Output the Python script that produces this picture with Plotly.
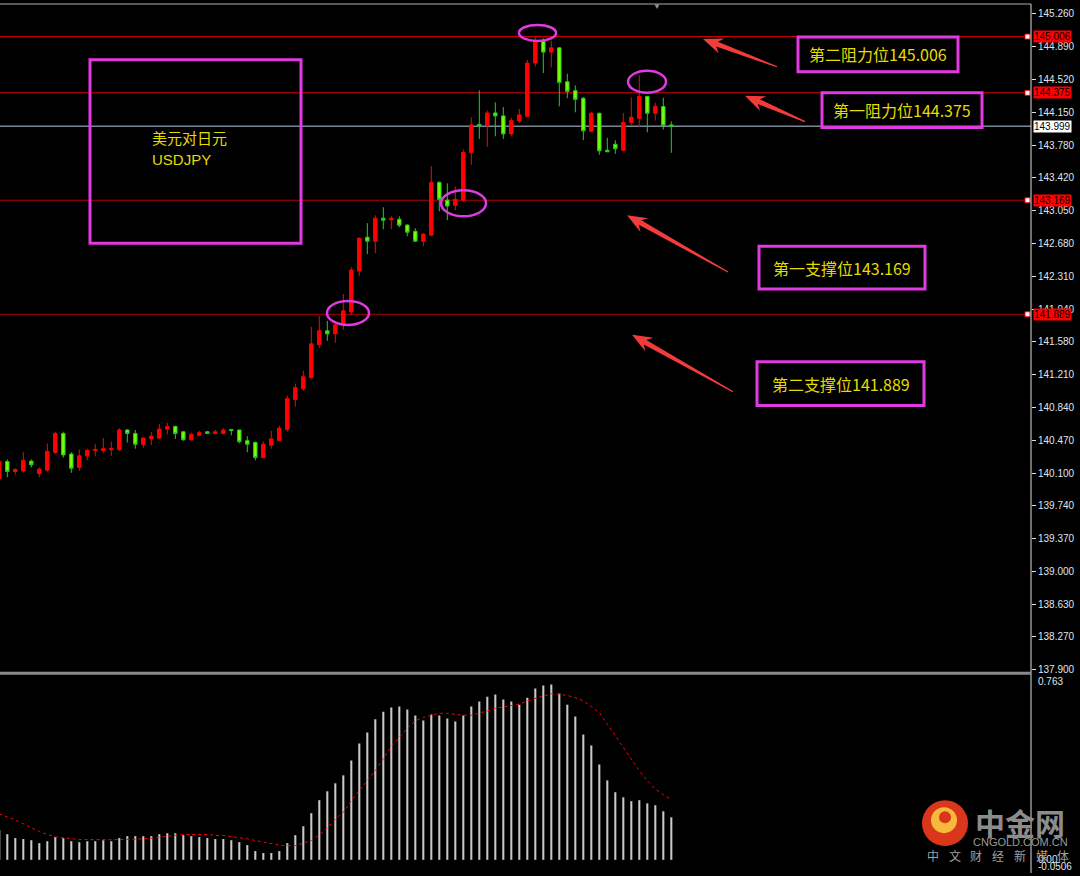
import math
import plotly.graph_objects as go

# ---- price data (USDJPY candles, oldest -> newest) ----
candle_idx = list(range(85))
opens = [140.047, 140.236, 140.124, 140.13, 140.24, 140.10, 140.14, 140.34, 140.55, 140.32,
         140.17, 140.30, 140.36, 140.36, 140.37, 140.37, 140.59, 140.55, 140.43, 140.49,
         140.50, 140.60, 140.63, 140.57, 140.48, 140.53, 140.57, 140.55, 140.55, 140.595,
         140.59, 140.47, 140.45, 140.28, 140.42, 140.47, 140.596, 140.931, 141.054, 141.177,
         141.546, 141.703, 141.669, 141.781, 141.915, 142.374, 142.754, 142.71, 142.967, 142.95,
         142.956, 142.89, 142.821, 142.71, 142.777, 143.37, 143.17, 143.112, 143.168, 143.702,
         144.02, 144.007, 144.149, 144.116, 143.914, 144.06, 144.111, 144.709, 144.961, 144.832,
         144.88, 144.499, 144.399, 144.313, 143.944, 144.145, 143.73, 143.798, 143.731, 144.044,
         144.089, 144.335, 144.145, 144.22, 144.015]
highs = [140.282, 140.26, 140.16, 140.34, 140.26, 140.17, 140.44, 140.57, 140.57, 140.34,
         140.37, 140.38, 140.43, 140.50, 140.46, 140.61, 140.60, 140.59, 140.50, 140.57,
         140.66, 140.67, 140.64, 140.58, 140.56, 140.58, 140.58, 140.59, 140.61, 140.60,
         140.59, 140.52, 140.46, 140.46, 140.58, 140.64, 140.976, 141.11, 141.255, 141.747,
         141.87, 141.815, 141.78, 142.117, 142.419, 142.75, 142.911, 143.0, 143.09, 142.99,
         142.99, 142.90, 142.855, 142.80, 143.552, 143.38, 143.358, 143.325, 143.739, 144.10,
         144.402, 144.175, 144.268, 144.216, 144.093, 144.194, 144.745, 145.006, 144.988, 144.961,
         144.887, 144.589, 144.458, 144.328, 144.164, 144.153, 143.87, 143.843, 144.149, 144.324,
         144.57, 144.34, 144.264, 144.32, 144.055]
lows = [140.025, 140.06, 140.09, 140.11, 140.17, 140.06, 140.12, 140.32, 140.28, 140.11,
        140.13, 140.25, 140.30, 140.33, 140.30, 140.35, 140.45, 140.38, 140.39, 140.42,
        140.49, 140.54, 140.49, 140.47, 140.47, 140.52, 140.548, 140.548, 140.55, 140.53,
        140.44, 140.34, 140.25, 140.275, 140.38, 140.47, 140.573, 140.85, 141.03, 141.166,
        141.513, 141.591, 141.569, 141.714, 141.882, 142.318, 142.564, 142.575, 142.844, 142.844,
        142.866, 142.765, 142.70, 142.654, 142.765, 143.045, 142.945, 143.056, 143.149, 143.567,
        143.858, 143.769, 143.887, 143.858, 143.887, 144.037, 144.105, 144.67, 144.597, 144.66,
        144.223, 144.313, 144.156, 143.843, 143.937, 143.68, 143.71, 143.69, 143.72, 144.007,
        143.988, 143.932, 144.063, 143.962, 143.702]
closes = [140.238, 140.124, 140.146, 140.25, 140.20, 140.15, 140.35, 140.55, 140.31, 140.16,
          140.30, 140.36, 140.37, 140.38, 140.38, 140.59, 140.55, 140.43, 140.50, 140.52,
          140.60, 140.63, 140.55, 140.48, 140.54, 140.56, 140.55, 140.57, 140.59, 140.585,
          140.46, 140.43, 140.28, 140.43, 140.49, 140.61, 140.942, 141.065, 141.188, 141.557,
          141.703, 141.669, 141.77, 141.927, 142.385, 142.743, 142.71, 142.967, 142.945, 142.967,
          142.889, 142.81, 142.71, 142.788, 143.37, 143.179, 143.104, 143.179, 143.705, 144.015,
          144.007, 144.149, 144.116, 143.914, 144.063, 144.127, 144.709, 144.961, 144.832, 144.88,
          144.492, 144.391, 144.301, 143.948, 144.145, 143.724, 143.713, 143.747, 144.041, 144.10,
          144.335, 144.145, 144.223, 144.007, 143.999]

# ---- MACD sub window ----
macd_hist = [0.123, 0.106, 0.090, 0.086, 0.081, 0.069, 0.077, 0.094, 0.090, 0.077,
             0.073, 0.077, 0.077, 0.081, 0.077, 0.090, 0.098, 0.098, 0.098, 0.098,
             0.106, 0.110, 0.110, 0.102, 0.098, 0.094, 0.090, 0.086, 0.086, 0.081,
             0.073, 0.061, 0.036, 0.028, 0.028, 0.036, 0.069, 0.102, 0.139, 0.193,
             0.247, 0.284, 0.317, 0.350, 0.412, 0.482, 0.528, 0.582, 0.614, 0.631,
             0.635, 0.623, 0.598, 0.577, 0.602, 0.598, 0.586, 0.573, 0.598, 0.635,
             0.656, 0.676, 0.685, 0.664, 0.656, 0.643, 0.672, 0.710, 0.722, 0.726,
             0.689, 0.643, 0.594, 0.519, 0.474, 0.395, 0.329, 0.280, 0.259, 0.243,
             0.247, 0.234, 0.226, 0.201, 0.176]
macd_signal = [0.190, 0.179, 0.165, 0.149, 0.132, 0.117, 0.105, 0.095, 0.091, 0.087,
               0.084, 0.084, 0.083, 0.081, 0.083, 0.084, 0.084, 0.085, 0.088, 0.089,
               0.094, 0.096, 0.101, 0.105, 0.105, 0.105, 0.105, 0.101, 0.101, 0.096,
               0.092, 0.087, 0.080, 0.073, 0.068, 0.061, 0.058, 0.059, 0.069, 0.080,
               0.103, 0.131, 0.169, 0.197, 0.245, 0.289, 0.328, 0.369, 0.420, 0.470,
               0.507, 0.545, 0.576, 0.590, 0.599, 0.607, 0.607, 0.603, 0.599, 0.599,
               0.607, 0.617, 0.628, 0.634, 0.638, 0.645, 0.659, 0.669, 0.679, 0.688,
               0.686, 0.681, 0.672, 0.659, 0.635, 0.610, 0.562, 0.514, 0.466, 0.417,
               0.369, 0.328, 0.293, 0.270, 0.250]

price_ticks = [145.260, 144.890, 144.520, 144.150, 143.780, 143.420, 143.050, 142.680,
               142.310, 141.940, 141.580, 141.210, 140.840, 140.470, 140.100, 139.740,
               139.370, 139.000, 138.630, 138.270, 137.900]

# key levels: (value, line colour, label bg)
levels = [(145.006, '#e00000', '#ff0000'),
          (144.375, '#e00000', '#ff0000'),
          (143.169, '#b00000', '#ff0000'),
          (141.889, '#b00000', '#ff0000')]
last_price = 143.999

notes = [("第二阻力位145.006", (798, 37, 958, 72), (703, 39), (777, 67)),
         ("第一阻力位144.375", (822, 93, 982, 128), (745, 96), (805, 122)),
         ("第一支撑位143.169", (759, 247, 925, 290), (627, 216), (728, 273)),
         ("第二支撑位141.889", (757, 363, 924, 407), (632, 336), (733, 393))]

# circled spots: (x0, x1, y0, y1) in candle index / price
circles = [(64.96, 69.59, 144.958, 145.137),
           (78.59, 83.34, 144.376, 144.622),
           (55.21, 60.84, 142.989, 143.280),
           (40.96, 46.21, 141.770, 142.038)]

MAGENTA = '#e23ae2'
YELLOW = '#e6dc00'
CJK = "Noto Sans CJK SC"

# plot area in page pixels: x 0..1031, y 4..875
def px(x):
    return x / 1031.0

def py(y):
    return (875.0 - y) / 871.0


def arrow_path(tip, tail, head_len=20, head_w=8, shaft_w=2.6, notch=5):
    dx, dy = tip[0] - tail[0], tip[1] - tail[1]
    L = math.hypot(dx, dy)
    ux, uy = dx / L, dy / L
    nx, ny = -uy, ux
    bx, by = tip[0] - ux * head_len, tip[1] - uy * head_len
    cx, cy = bx + ux * notch, by + uy * notch
    pts = [(tail[0] + nx * 0.6, tail[1] + ny * 0.6),
           (cx + nx * shaft_w, cy + ny * shaft_w),
           (bx + nx * head_w, by + ny * head_w),
           tip,
           (bx - nx * head_w, by - ny * head_w),
           (cx - nx * shaft_w, cy - ny * shaft_w),
           (tail[0] - nx * 0.6, tail[1] - ny * 0.6)]
    return 'M ' + ' L '.join(f'{px(x):.5f},{py(y):.5f}' for x, y in pts) + ' Z'


fig = go.Figure()

fig.add_trace(go.Candlestick(
    x=candle_idx, open=opens, high=highs, low=lows, close=closes,
    increasing=dict(line=dict(color='#ff0000', width=1), fillcolor='#ff0000'),
    decreasing=dict(line=dict(color='#22cc22', width=1), fillcolor='#7cfc00'),
    whiskerwidth=0, xaxis='x', yaxis='y', hoverinfo='skip', showlegend=False
))

fig.add_trace(go.Bar(
    x=candle_idx, y=macd_hist, width=0.26,
    marker=dict(color='#c8c8c8', line=dict(width=0)),
    xaxis='x', yaxis='y2', showlegend=False, hoverinfo='skip'
))
fig.add_trace(go.Scatter(
    x=candle_idx, y=macd_signal, mode='lines',
    line=dict(color='#ff0000', width=1, dash='dot'),
    xaxis='x', yaxis='y2', showlegend=False, hoverinfo='skip'
))

shapes = []
annotations = []

# support / resistance lines + right-axis tags
for val, lc, bg in levels:
    shapes.append(dict(type='line', xref='paper', yref='y', x0=0, x1=1, y0=val, y1=val,
                       line=dict(color=lc, width=1), layer='below'))
    shapes.append(dict(type='rect', xref='paper', yref='y', x0=px(1025), x1=px(1030),
                       y0=val - 0.028, y1=val + 0.028, fillcolor='white',
                       line=dict(color='#ff0000', width=1)))
    annotations.append(dict(xref='paper', yref='y', x=1, y=val, xanchor='left', xshift=2,
                            text=f'{val:.3f}', showarrow=False, bgcolor=bg, borderpad=0,
                            font=dict(family='Liberation Sans', size=10, color='black')))

shapes.append(dict(type='line', xref='paper', yref='y', x0=0, x1=1, y0=last_price, y1=last_price,
                   line=dict(color='#7a8896', width=1.5), layer='below'))
annotations.append(dict(xref='paper', yref='y', x=1, y=last_price, xanchor='left', xshift=2,
                        text=f'{last_price:.3f}', showarrow=False, bgcolor='white', borderpad=0,
                        font=dict(family='Liberation Sans', size=10, color='black')))

# frame lines
shapes.append(dict(type='line', xref='paper', yref='paper', x0=0, x1=px(1031), y0=py(4), y1=py(4),
                   line=dict(color='#b0b0b0', width=1)))
shapes.append(dict(type='line', xref='paper', yref='paper', x0=px(1031), x1=px(1031), y0=py(4), y1=py(876),
                   line=dict(color='#e0e0e0', width=1)))
shapes.append(dict(type='line', xref='paper', yref='paper', x0=0, x1=px(1031), y0=py(675.5), y1=py(675.5),
                   line=dict(color='#8a8a8a', width=3)))

# circles around key candles
for x0, x1, y0, y1 in circles:
    shapes.append(dict(type='circle', xref='x', yref='y', x0=x0, x1=x1, y0=y0, y1=y1,
                       line=dict(color=MAGENTA, width=2.5)))

# title box
shapes.append(dict(type='rect', xref='paper', yref='paper', x0=px(90), x1=px(301), y0=py(60), y1=py(244),
                   line=dict(color=MAGENTA, width=3)))
annotations.append(dict(xref='paper', yref='paper', x=px(150), y=py(138), xanchor='left', yanchor='middle',
                        text='美元对日元', showarrow=False, font=dict(family=CJK, size=15, color=YELLOW)))
annotations.append(dict(xref='paper', yref='paper', x=px(150), y=py(160), xanchor='left', yanchor='middle',
                        text='USDJPY', showarrow=False, font=dict(family='Liberation Sans', size=15, color=YELLOW)))

# level notes with arrows
for text, (bx0, by0, bx1, by1), tip, tail in notes:
    shapes.append(dict(type='rect', xref='paper', yref='paper', x0=px(bx0), x1=px(bx1), y0=py(by0), y1=py(by1),
                       line=dict(color=MAGENTA, width=3)))
    annotations.append(dict(xref='paper', yref='paper', x=px((bx0 + bx1) / 2), y=py((by0 + by1) / 2),
                            xanchor='center', yanchor='middle', text=text, showarrow=False,
                            font=dict(family=CJK, size=16, color=YELLOW)))
    shapes.append(dict(type='path', xref='paper', yref='paper', path=arrow_path(tip, tail),
                       fillcolor='#f23c3c', line=dict(width=0)))

# MACD side labels
for lbl, yy in [('0.763', 684), ('0.00', 862), ('-0.0506', 869)]:
    annotations.append(dict(xref='paper', yref='paper', x=px(1036), y=py(yy), xanchor='left', yanchor='middle',
                            text=lbl, showarrow=False,
                            font=dict(family='Liberation Sans', size=10, color='#dfe6ee')))

# shift marker
annotations.append(dict(xref='paper', yref='paper', x=px(657), y=py(6), xanchor='center', yanchor='middle',
                        text='▼', showarrow=False, font=dict(size=8, color='#8898a8')))

# watermark logo
shapes.append(dict(type='circle', xref='paper', yref='paper', x0=px(922), x1=px(968), y0=py(803), y1=py(849),
                   fillcolor='#d9361c', line=dict(width=0)))
shapes.append(dict(type='circle', xref='paper', yref='paper', x0=px(931), x1=px(957), y0=py(810), y1=py(836),
                   fillcolor='#f6b93b', line=dict(width=0)))
shapes.append(dict(type='circle', xref='paper', yref='paper', x0=px(939), x1=px(951), y0=py(814), y1=py(826),
                   fillcolor='#d9361c', line=dict(width=0)))
annotations.append(dict(xref='paper', yref='paper', x=px(1020), y=py(825), xanchor='center', yanchor='middle',
                        text='<b>中金网</b>', showarrow=False, font=dict(family=CJK, size=30, color='#8c8c8c')))
annotations.append(dict(xref='paper', yref='paper', x=px(1020), y=py(845), xanchor='center', yanchor='middle',
                        text='CNGOLD.COM.CN', showarrow=False,
                        font=dict(family='Liberation Sans', size=11, color='#9a9a9a')))
for k, ch in enumerate('中文财经新媒体'):
    annotations.append(dict(xref='paper', yref='paper', x=px(933 + 21.7 * k), y=py(858), xanchor='center',
                            yanchor='middle', text=ch, showarrow=False,
                            font=dict(family=CJK, size=12, color='#a0a0a0')))

fig.update_layout(
    width=1080, height=876,
    margin=dict(l=0, r=49, t=4, b=1),
    paper_bgcolor='black', plot_bgcolor='black',
    boxgap=0.38,
    showlegend=False,
    xaxis=dict(range=[0.0875, 128.96], visible=False, fixedrange=True,
               rangeslider=dict(visible=False), anchor='y2'),
    yaxis=dict(domain=[py(673), 1], range=[137.888, 145.372], side='right',
               tickvals=price_ticks, ticktext=[f'{v:.3f}' for v in price_ticks],
               ticks='outside', ticklen=4, tickcolor='#e0e0e0', showgrid=False, zeroline=False,
               tickfont=dict(family='Liberation Sans', size=10, color='#dfe6ee')),
    yaxis2=dict(domain=[0, py(678)], range=[-0.0506, 0.763], side='right',
                showticklabels=False, showgrid=False, zeroline=False),
    shapes=shapes,
    annotations=annotations,
)

# page body has a default 8px margin; drop it so the chart sits at the window corner
fig.write_html("out.html", config={'displayModeBar': False},
               post_script="document.body.style.margin='0';document.body.style.background='black';")
